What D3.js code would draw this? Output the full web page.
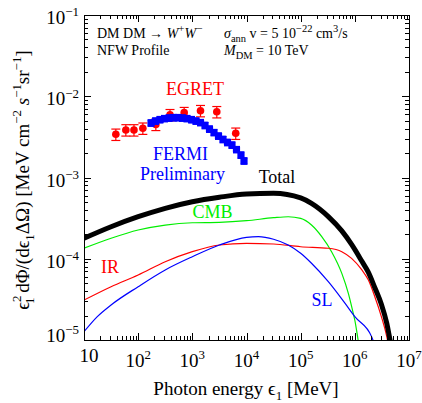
<!DOCTYPE html>
<html><head><meta charset="utf-8">
<script src="https://cdn.jsdelivr.net/npm/d3@7"></script>
<style>body{margin:0;background:#fff} svg{display:block} text{font-family:"Liberation Serif","Times New Roman",serif}</style>
</head><body><svg id="c" width="422" height="403"></svg>
<script>
// ---- data (energies in MeV, values in MeV cm^-2 s^-1 sr^-1) ----
const egretE = [38.7, 59.2, 83.7, 122, 212, 387, 707, 1414, 2828, 6325];
const egretV = [3.40e-3, 3.85e-3, 3.85e-3, 4.04e-3, 4.5e-3, 5.92e-3, 6.28e-3, 6.64e-3, 6.44e-3, 3.50e-3];
const egretErr = [0.16, 0.16, 0.16, 0.16, 0.16, 0.16, 0.16, 0.16, 0.16, 0.16];

const fermiE = [173, 209, 253, 306, 371, 449, 543, 658, 796, 964, 1169, 1416, 1714, 2075, 2512, 3041, 3681, 4457, 5395, 6531, 7907, 8995];
const fermiV = [4.69e-3, 4.96e-3, 5.17e-3, 5.32e-3, 5.40e-3, 5.47e-3, 5.47e-3, 5.40e-3, 5.32e-3, 5.17e-3, 4.96e-3, 4.75e-3, 4.37e-3, 3.95e-3, 3.58e-3, 3.24e-3, 2.94e-3, 2.70e-3, 2.51e-3, 2.21e-3, 1.89e-3, 1.60e-3];
const fermiErr = [0.09, 0.09, 0.09, 0.09, 0.09, 0.09, 0.09, 0.09, 0.09, 0.09, 0.09, 0.09, 0.09, 0.09, 0.09, 0.09, 0.09, 0.09, 0.09, 0.09, 0.09, 0.09];

const totalE = [10, 31.6, 100, 316, 1000, 3162, 1e4, 3.16e4, 1e5, 1.585e5, 3.24e5, 5.75e5, 8.71e5, 1.35e6, 1.78e6, 2.34e6, 3.09e6, 3.89e6, 4.47e6, 5.0e6];
const totalV = [1.786e-4, 2.477e-4, 3.289e-4, 4.178e-4, 5.035e-4, 5.715e-4, 6.266e-4, 6.397e-4, 5.6e-4, 4.8e-4, 3.3e-4, 2.2e-4, 1.5e-4, 9.3e-5, 6.8e-5, 4.4e-5, 2.75e-5, 1.6e-5, 1.0e-5, 7e-6];

const cmbE = [10, 31.6, 100, 316, 1000, 3162, 1e4, 3.16e4, 5.89e4, 1e5, 1.585e5, 2.45e5, 3.72e5, 5.75e5, 7.59e5, 9.33e5, 1.0e6, 1.15e6, 1.26e6];
const cmbV = [1.346e-4, 1.786e-4, 2.26e-4, 2.6e-4, 2.773e-4, 2.805e-4, 2.938e-4, 3.2e-4, 3.289e-4, 3.14e-4, 2.6e-4, 1.871e-4, 1.222e-4, 6.61e-5, 3.75e-5, 2.14e-5, 1.75e-5, 1.0e-5, 7e-6];

const irE = [10, 31.6, 100, 316, 1000, 3162, 1e4, 3.16e4, 1e5, 3.24e5, 5.75e5, 8.71e5, 1.35e6, 1.78e6, 2.34e6, 3.09e6, 3.89e6, 4.27e6];
const irV = [3.1e-5, 4.53e-5, 6.31e-5, 9.18e-5, 1.222e-4, 1.476e-4, 1.549e-4, 1.52e-4, 1.406e-4, 1.346e-4, 1.222e-4, 1.01e-4, 7.28e-5, 5.47e-5, 3.41e-5, 1.94e-5, 1.1e-5, 8e-6];

const slE = [10, 17.6, 31.6, 100, 316, 1000, 3162, 1e4, 1.66e4, 3.16e4, 5.89e4, 1e5, 1.585e5, 3.24e5, 6.61e5, 1e6, 2.04e6, 2.29e6];
const slV = [1.265e-5, 1.94e-5, 2.7e-5, 4.53e-5, 7.28e-5, 1.059e-4, 1.476e-4, 1.837e-4, 1.871e-4, 1.738e-4, 1.476e-4, 1.167e-4, 8.79e-5, 5.22e-5, 2.82e-5, 1.94e-5, 1.1e-5, 9e-6];

const xTicks = [10, 1e2, 1e3, 1e4, 1e5, 1e6, 1e7];
const xTickExp = ["", "2", "3", "4", "5", "6", "7"];
const yTicks = [1e-5, 1e-4, 1e-3, 1e-2, 1e-1];
const yTickExp = ["\u22125", "\u22124", "\u22123", "\u22122", "\u22121"];

// ---- layout ----
const L = 84, R = 409, T = 15, B = 340;
const svg = d3.select("#c");
const x = d3.scaleLog().domain([10, 1e7]).range([L, R]);
const y = d3.scaleLog().domain([1e-5, 1e-1]).range([B, T]);

svg.append("defs").append("clipPath").attr("id", "clip")
  .append("rect").attr("x", L).attr("y", T).attr("width", R - L).attr("height", B - T);

const line = d3.line().x(d => x(d[0])).y(d => y(d[1])).curve(d3.curveMonotoneX);
const curves = svg.append("g").attr("clip-path", "url(#clip)");
function curve(E, V, color, w) {
  curves.append("path").datum(E.map((e, i) => [e, V[i]]))
    .attr("d", line).attr("fill", "none").attr("stroke", color).attr("stroke-width", w)
    .attr("stroke-linejoin", "round");
}
curve(cmbE, cmbV, "#00ee00", 1.2);
curve(irE, irV, "#ff0000", 1.2);
curve(slE, slV, "#0000ff", 1.2);
curve(totalE, totalV, "#000000", 5);

// EGRET
const eg = svg.append("g");
egretE.forEach((e, i) => {
  const v = egretV[i], cx = x(e), lo = y(v * (1 - egretErr[i])), hi = y(v * (1 + egretErr[i]));
  eg.append("line").attr("x1", cx).attr("x2", cx).attr("y1", lo).attr("y2", hi).attr("stroke", "#ff0000").attr("stroke-width", 1.2);
  [lo, hi].forEach(yy => eg.append("line").attr("x1", cx - 4.5).attr("x2", cx + 4.5).attr("y1", yy).attr("y2", yy).attr("stroke", "#ff0000").attr("stroke-width", 1.2));
  eg.append("circle").attr("cx", cx).attr("cy", y(v)).attr("r", 3.8).attr("fill", "#ff0000");
});
// FERMI
const fg = svg.append("g");
fermiE.forEach((e, i) => {
  const v = fermiV[i], cx = x(e), lo = y(v * (1 - fermiErr[i])), hi = y(v * (1 + fermiErr[i]));
  fg.append("line").attr("x1", cx).attr("x2", cx).attr("y1", lo).attr("y2", hi).attr("stroke", "#0000ff").attr("stroke-width", 1.2);
  [lo, hi].forEach(yy => fg.append("line").attr("x1", cx - 3.5).attr("x2", cx + 3.5).attr("y1", yy).attr("y2", yy).attr("stroke", "#0000ff").attr("stroke-width", 1.2));
  fg.append("rect").attr("x", cx - 3.6).attr("y", y(v) - 3.6).attr("width", 7.2).attr("height", 7.2).attr("rx", 1.2).attr("fill", "#0000ff");
});

// frame and ticks
const ax = svg.append("g").attr("stroke", "#000").attr("stroke-width", 1).attr("shape-rendering", "crispEdges");
ax.append("rect").attr("x", L).attr("y", T).attr("width", R - L).attr("height", B - T).attr("fill", "none");
for (let d = 1; d <= 7; d++) {
  for (let k = 1; k <= 9; k++) {
    const v = k * Math.pow(10, d);
    if (v > 1e7) break;
    const len = k === 1 ? 7 : 4, px = Math.round(x(v)) + 0.5;
    ax.append("line").attr("x1", px).attr("x2", px).attr("y1", B).attr("y2", B - len);
    ax.append("line").attr("x1", px).attr("x2", px).attr("y1", T).attr("y2", T + len);
  }
}
for (let d = -5; d <= -1; d++) {
  for (let k = 1; k <= 9; k++) {
    const v = k * Math.pow(10, d);
    if (v > 0.1 + 1e-12) break;
    const len = k === 1 ? 7 : 4, py = Math.round(y(v)) + 0.5;
    ax.append("line").attr("x1", L).attr("x2", L + len).attr("y1", py).attr("y2", py);
    ax.append("line").attr("x1", R).attr("x2", R - len).attr("y1", py).attr("y2", py);
  }
}

// rich text helper
function rich(sel, segs, base, scale) {
  scale = scale || 0.68;
  let cur = 0;
  segs.forEach(s => {
    const target = s.s === "sup" ? -0.4 * base : s.s === "sub" ? 0.28 * base : 0;
    const t = sel.append("tspan").attr("dy", target - cur).text(s.t)
      .attr("font-size", s.s ? base * scale : base);
    if (s.i) t.attr("font-style", "italic");
    if (s.dx) t.attr("dx", s.dx);
    cur = target;
  });
  return sel;
}

// tick labels
xTicks.forEach((v, i) => {
  const t = svg.append("text").attr("text-anchor", "middle").attr("font-size", 19);
  if (xTickExp[i] === "") {
    t.attr("x", x(v) + 5).attr("y", 362).text("10");
  } else {
    t.attr("x", x(v)).attr("y", 367);
    rich(t, [{t: "10"}, {t: xTickExp[i], s: "sup"}], 19);
  }
});
yTicks.forEach((v, i) => {
  const t = svg.append("text").attr("text-anchor", "end").attr("font-size", 19)
    .attr("x", 79).attr("y", i === 0 ? y(v) + 2 : y(v) + 9);
  rich(t, [{t: "10"}, {t: yTickExp[i], s: "sup"}], 19);
});

// axis titles
const xt = svg.append("text").attr("text-anchor", "middle").attr("x", 246).attr("y", 395).attr("font-size", 19);
rich(xt, [{t: "Photon energy \u03f5"}, {t: "1", s: "sub"}, {t: " [MeV]"}], 19);

const yt = svg.append("text").attr("text-anchor", "middle").attr("font-size", 19)
  .attr("transform", "translate(29,180) rotate(-90)");
rich(yt, [{t: "\u03f5"}, {t: "2", s: "sup"}, {t: "1", s: "sub", dx: -8.5}, {t: " d\u03a6/(d\u03f5"}, {t: "1", s: "sub"},
  {t: "\u0394\u03a9) [MeV cm"}, {t: "\u22122", s: "sup"}, {t: " "}, {t: "s", i: true}, {t: "\u22121", s: "sup"}, {t: "sr"}, {t: "\u22121", s: "sup"}, {t: "]"}], 19);

// header
const h1 = svg.append("text").attr("x", 97).attr("y", 38).attr("font-size", 14);
rich(h1, [{t: "DM DM \u2192 "}, {t: "W", i: true}, {t: "+", s: "sup"}, {t: "W", i: true}, {t: "\u2212", s: "sup"}], 14, 0.78);
const h2 = svg.append("text").attr("x", 97).attr("y", 55).attr("font-size", 14).text("NFW Profile");
const h3 = svg.append("text").attr("x", 224).attr("y", 38).attr("font-size", 14);
rich(h3, [{t: "\u03c3", i: true}, {t: "ann", s: "sub"}, {t: " v = 5 10"}, {t: "\u221222", s: "sup"}, {t: " cm"}, {t: "3", s: "sup"}, {t: "/s"}], 14, 0.75);
const h4 = svg.append("text").attr("x", 224).attr("y", 55).attr("font-size", 14);
rich(h4, [{t: "M", i: true}, {t: "DM", s: "sub"}, {t: " = 10 TeV"}], 14, 0.75);

// curve / data labels
const lab = (t, xx, yy, c) => svg.append("text").attr("x", xx).attr("y", yy).attr("font-size", 18).attr("fill", c).attr("text-anchor", "middle").text(t);
lab("EGRET", 195, 95, "#ff0000");
lab("FERMI", 180.5, 160, "#0000ff");
lab("Preliminary", 182.5, 180, "#0000ff");
lab("Total", 277, 183, "#000000");
lab("CMB", 212.5, 218, "#00ee00");
lab("IR", 110, 272.5, "#ff0000");
lab("SL", 322, 306, "#0000ff");
</script></body></html>
